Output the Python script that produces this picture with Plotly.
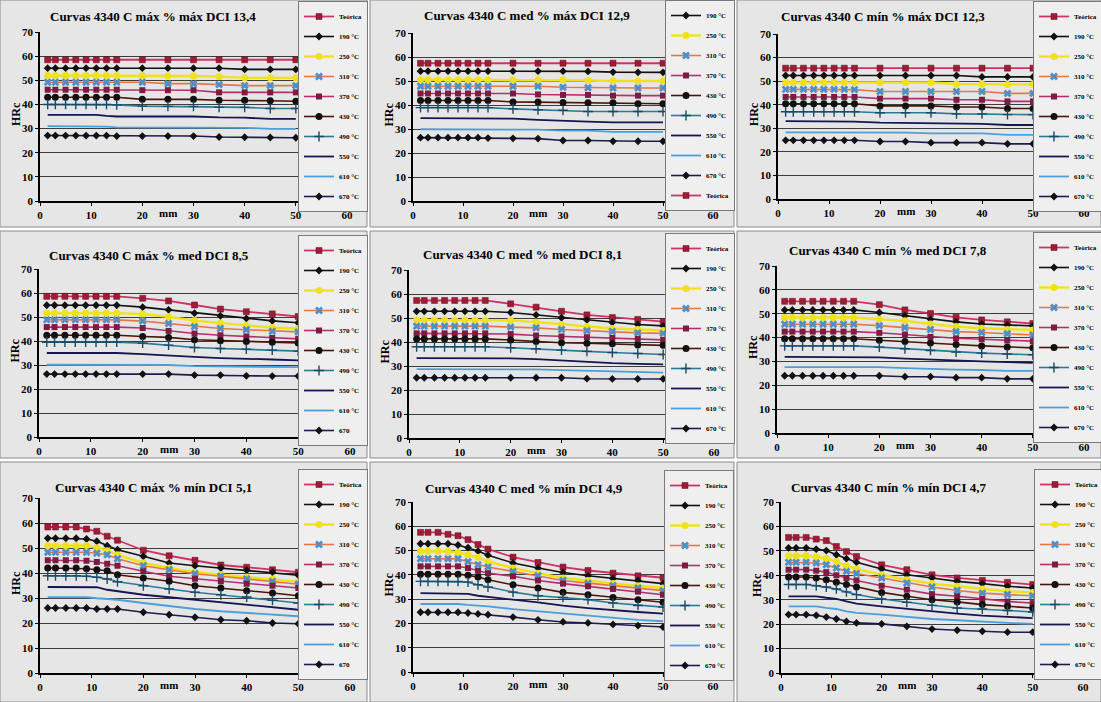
import plotly.graph_objects as go

# ---------------- data ----------------
distances_mm = [1.5, 3, 5, 7, 9, 11, 13, 15, 20, 25, 30, 35, 40, 45, 50]
x_ticks = [0, 10, 20, 30, 40, 50, 60]
y_ticks = [0, 10, 20, 30, 40, 50, 60, 70]

series_names = ["Teórica", "190 °C", "250 °C", "310 °C", "370 °C",
                "430 °C", "490 °C", "550 °C", "610 °C", "670 °C"]

titles = [
    "Curvas 4340 C máx % máx DCI 13,4",
    "Curvas 4340 C med % máx DCI 12,9",
    "Curvas 4340 C mín % máx DCI 12,3",
    "Curvas 4340 C máx % med DCI 8,5",
    "Curvas 4340 C med % med DCI 8,1",
    "Curvas 4340 C mín % med DCI 7,8",
    "Curvas 4340 C máx % mín DCI 5,1",
    "Curvas 4340 C med % mín DCI 4,9",
    "Curvas 4340 C mín % mín DCI 4,7",
]

# each panel: Teórica, 190, 250, 310, 370, 430, 490, 550, 610, 670 (HRc)
max_max = [
    [58.5, 58.5, 58.5, 58.5, 58.5, 58.5, 58.5, 58.5, 58.5, 58.5, 58.5, 58.5, 58.5, 58.5, 58.5],
    [55, 55, 55, 55, 55, 55, 55, 55, 55, 55, 55, 55, 54.5, 54.5, 54.5],
    [52, 52, 52, 52, 52, 52, 52, 52, 52, 51.8, 51.8, 51.5, 51, 51, 51],
    [49.2, 49.2, 49.2, 49.2, 49.2, 49.2, 49.2, 49.2, 49.2, 48.6, 48.6, 48.2, 47.8, 47.8, 47.8],
    [46.1, 46.1, 46.1, 46.1, 46.1, 46.1, 46.1, 46.1, 45.9, 45.9, 45.9, 45, 45, 45, 45],
    [43, 43, 43, 43, 43, 43, 43, 43, 42.1, 42.1, 42.1, 41.7, 41.7, 41.5, 41.3],
    [40, 40, 40, 40, 40, 40, 40, 39.8, 39.3, 39.2, 39.2, 38.8, 38.8, 38.3, 38.3],
    [35.7, 35.7, 35.7, 35.7, 35.7, 35.7, 35.3, 35, 35, 35, 35, 34.6, 34.5, 34, 34],
    [31, 31, 31, 31, 31, 31, 30.8, 30.5, 30.5, 30.5, 30.3, 30.3, 30.3, 29.9, 29.9],
    [27.1, 27.1, 27.1, 27.1, 27.1, 27.1, 27.1, 26.9, 26.9, 26.9, 26.9, 26.5, 26.4, 26.3, 26.2],
]
med_max = [
    [57.4, 57.4, 57.4, 57.4, 57.4, 57.4, 57.4, 57.4, 57.4, 57.4, 57.4, 57.4, 57.4, 57.4, 57.4],
    [54.1, 54.1, 54.1, 54.1, 54.1, 54.1, 54.1, 54.1, 54.1, 54.1, 54.1, 54, 53.7, 53.6, 53.6],
    [50.5, 50.5, 50.5, 50.5, 50.5, 50.5, 50.5, 50.5, 50.5, 50.5, 50.5, 50.2, 50, 50, 50],
    [47.8, 47.8, 47.8, 47.8, 47.8, 47.8, 47.8, 47.8, 47.8, 47.8, 47.4, 47.2, 47.1, 47.1, 47.1],
    [44.8, 44.8, 44.8, 44.8, 44.8, 44.8, 44.8, 44.8, 44.8, 44.4, 44.2, 44.2, 43.9, 43.9, 43.9],
    [41.9, 41.9, 41.9, 41.9, 41.9, 41.9, 41.9, 41.9, 41.3, 41.2, 41, 40.9, 40.9, 40.5, 40.5],
    [38.9, 38.9, 38.9, 38.9, 38.9, 38.9, 38.9, 38.9, 38.4, 38, 37.8, 37.3, 37.3, 37.3, 37.3],
    [34.5, 34.5, 34.5, 34.5, 34.5, 34.5, 34.5, 34.5, 34.3, 33.8, 33.6, 33.1, 32.8, 32.8, 32.8],
    [29.9, 29.9, 29.9, 29.9, 29.9, 29.9, 29.9, 29.9, 29.9, 29.7, 29.3, 29.3, 28.8, 28.8, 28.8],
    [26.4, 26.4, 26.4, 26.4, 26.4, 26.4, 26.4, 26.2, 26.1, 26, 25.2, 25.2, 24.9, 24.9, 24.9],
]
min_max = [
    [55.5, 55.5, 55.5, 55.5, 55.5, 55.5, 55.5, 55.5, 55.5, 55.5, 55.5, 55.5, 55.5, 55.5, 55.5],
    [52.4, 52.4, 52.4, 52.4, 52.4, 52.4, 52.4, 52.4, 52.4, 52.4, 52.4, 52.4, 51.8, 51.8, 51.8],
    [49.4, 49.4, 49.4, 49.4, 49.4, 49.4, 49.4, 49.4, 49.4, 49.4, 49.4, 48.8, 48.8, 48.6, 48.6],
    [46.5, 46.5, 46.5, 46.5, 46.5, 46.5, 46.5, 46.4, 45.6, 45.6, 45.6, 45.6, 45.6, 44.8, 44.8],
    [43.3, 43.3, 43.3, 43.3, 43.3, 43.3, 43.3, 43.3, 42.6, 42.6, 42.6, 42.1, 42.1, 41.4, 41.4],
    [40.4, 40.4, 40.4, 40.4, 40.4, 40.4, 40.4, 40.4, 39.5, 39.5, 39.5, 39, 39, 38.4, 38.4],
    [37, 37, 37, 37, 37, 37, 37, 37, 36.6, 36.6, 36.6, 36.1, 36.1, 35.8, 35.8],
    [33, 33, 33, 33, 33, 33, 33, 32.8, 32.4, 32.3, 32.3, 31.9, 31.9, 31.4, 31.4],
    [28.3, 28.3, 28.3, 28.3, 28.3, 28.3, 28.3, 28.3, 28.3, 28.2, 27.8, 27.8, 27.8, 27.2, 27.2],
    [24.9, 24.9, 24.9, 24.9, 24.9, 24.9, 24.9, 24.9, 24.4, 24.4, 23.9, 23.9, 23.9, 23.4, 23.4],
]
max_med = [
    [58.6, 58.6, 58.6, 58.6, 58.6, 58.6, 58.6, 58.6, 57.8, 56.7, 55, 53.3, 52.2, 51.3, 50.2],
    [54.9, 54.9, 54.9, 54.9, 54.9, 54.9, 54.9, 54.9, 54.1, 53, 51.6, 50.5, 49.4, 48.4, 47.6],
    [51.6, 51.6, 51.6, 51.6, 51.6, 51.6, 51.6, 51.6, 51.2, 50.1, 48.5, 47.4, 46.5, 45.6, 45.2],
    [48.8, 48.8, 48.8, 48.8, 48.8, 48.8, 48.8, 48.8, 48.3, 47.3, 46, 45.2, 44.7, 44.1, 43.8],
    [45.8, 45.8, 45.8, 45.8, 45.8, 45.8, 45.8, 45.8, 45.4, 44.2, 43.1, 42.4, 41.9, 41.3, 40.9],
    [42.4, 42.4, 42.4, 42.4, 42.4, 42.4, 42.4, 42.4, 41.9, 41.5, 40.5, 40.1, 39.8, 39.5, 39.2],
    [39.5, 39.5, 39.5, 39.5, 39.5, 39.5, 39.5, 39.5, 39.1, 38.3, 37.3, 36.9, 36.6, 36.2, 35.8],
    [35, 35, 35, 35, 35, 35, 35, 35, 34.5, 33.8, 33.4, 32.9, 32.7, 32.3, 31.9],
    [30.1, 30.1, 30.1, 30.1, 30.1, 30.1, 30.1, 30.1, 30.1, 30, 29.5, 29.4, 29.1, 29.1, 29.1],
    [26.2, 26.2, 26.2, 26.2, 26.2, 26.2, 26.2, 26.2, 26.2, 26.2, 25.8, 25.8, 25.5, 25.4, 25.4],
]
med_med = [
    [57.3, 57.3, 57.3, 57.3, 57.3, 57.3, 57.3, 57.3, 55.9, 54.5, 52.8, 51.3, 50.2, 49.4, 48.5],
    [52.8, 52.8, 52.8, 52.8, 52.8, 52.8, 52.8, 52.8, 52.3, 51.3, 50.1, 49.2, 48.1, 47.3, 46.7],
    [49.2, 49.2, 49.2, 49.2, 49.2, 49.2, 49.2, 49.2, 49, 48.3, 47.3, 46.5, 45.6, 45.2, 44.8],
    [46.6, 46.6, 46.6, 46.6, 46.6, 46.6, 46.6, 46.6, 46.2, 45.9, 45.2, 44.7, 44.4, 43.8, 43.6],
    [43.6, 43.6, 43.6, 43.6, 43.6, 43.6, 43.6, 43.6, 43.3, 42.7, 42.3, 42, 41.7, 41.3, 40.9],
    [41.3, 41.3, 41.3, 41.3, 41.3, 41.3, 41.3, 41.3, 40.8, 40.2, 39.7, 39.5, 39.3, 38.8, 38.6],
    [38, 38, 38, 38, 38, 38, 38, 38, 37.6, 37.2, 36.6, 36.1, 35.6, 35.2, 34.8],
    [33.3, 33.3, 33.3, 33.3, 33.3, 33.3, 33.3, 33.3, 33.2, 32.9, 32.3, 31.8, 31.2, 30.9, 30.7],
    [28.7, 28.7, 28.7, 28.7, 28.7, 28.7, 28.7, 28.7, 28.7, 28.6, 28.3, 28, 27.7, 27.5, 27.2],
    [25.1, 25.1, 25.1, 25.1, 25.1, 25.1, 25.1, 25.1, 25.1, 25.1, 25.1, 24.7, 24.6, 24.6, 24.6],
]
min_med = [
    [55.2, 55.2, 55.2, 55.2, 55.2, 55.2, 55.2, 55.2, 53.8, 51.6, 50.1, 48.5, 47.4, 46.6, 45.9],
    [51.6, 51.6, 51.6, 51.6, 51.6, 51.6, 51.6, 51.6, 50.5, 49.1, 47.7, 46.6, 45.7, 45.3, 44.9],
    [48.4, 48.4, 48.4, 48.4, 48.4, 48.4, 48.4, 48.4, 47.7, 47, 45.7, 44.6, 43.9, 43.4, 43.2],
    [45.6, 45.6, 45.6, 45.6, 45.6, 45.6, 45.6, 45.6, 45, 44.2, 43.4, 42.5, 42.1, 41.6, 41.1],
    [42.5, 42.5, 42.5, 42.5, 42.5, 42.5, 42.5, 42.5, 42, 41.3, 40.3, 39.7, 39.3, 38.8, 38.5],
    [39.5, 39.5, 39.5, 39.5, 39.5, 39.5, 39.5, 39.5, 38.9, 38.4, 37.7, 37.1, 36.5, 36.1, 35.7],
    [36.5, 36.5, 36.5, 36.5, 36.5, 36.5, 36.5, 36.5, 36, 35.3, 34.6, 33.9, 33.5, 33.1, 32.8],
    [31.9, 31.9, 31.9, 31.9, 31.9, 31.9, 31.9, 31.9, 31.7, 31.2, 30.7, 30.3, 30, 29.7, 29.4],
    [27.6, 27.6, 27.6, 27.6, 27.6, 27.6, 27.6, 27.6, 27.6, 27.2, 26.8, 26.6, 26.4, 26, 26],
    [24, 24, 24, 24, 24, 24, 24, 24, 24, 23.6, 23.6, 23.2, 23.2, 22.7, 22.7],
]
max_min = [
    [58.4, 58.4, 58.4, 58.4, 57.6, 56.7, 54.7, 53.1, 49.1, 46.9, 45.1, 43.2, 42.3, 41.3, 40.3],
    [53.9, 53.9, 53.9, 53.9, 53.6, 52.7, 50.9, 49.3, 46.7, 44, 42.9, 42, 41.1, 40.3, 39.1],
    [50.9, 50.9, 50.9, 50.9, 51, 50.1, 48.9, 47.3, 44, 42, 40.3, 39.3, 38.4, 37.6, 36.5],
    [48.3, 48.3, 48.3, 48.3, 48.3, 47.9, 47.3, 45.7, 42.9, 41.3, 39.7, 38.7, 37.6, 36.6, 35.5],
    [45.1, 45.1, 45.1, 45.1, 44.9, 44.4, 43.7, 42.9, 40.7, 38.7, 37.7, 36.7, 35.7, 34.9, 34],
    [42, 42, 42, 42, 41.7, 41.3, 40.9, 39.3, 38, 36.7, 34.9, 34, 32.9, 32, 30.9],
    [38.9, 38.9, 38.9, 38.9, 38.7, 38.3, 37.6, 36.5, 34.9, 33.6, 32.3, 31.3, 30.4, 29.1, 28],
    [34.4, 34.4, 34.4, 34.4, 34.4, 34.3, 33.3, 32.7, 31.3, 30.3, 29.3, 28.3, 27.3, 26.4, 25.3],
    [30.3, 30.3, 30.3, 30.3, 30.3, 29.9, 29.6, 29.3, 28, 26.7, 25.6, 24.7, 24, 23.2, 22.7],
    [26, 26, 26, 26, 26, 25.6, 25.6, 25.6, 24.3, 23.3, 22.3, 21.3, 20.9, 20, 19.7],
]
med_min = [
    [57.5, 57.5, 57.5, 56.7, 56.1, 54.5, 52.5, 50.6, 47.3, 45.1, 43.2, 41.8, 40.7, 39.6, 38.8],
    [52.8, 52.8, 52.8, 52.8, 52.3, 51.2, 49.8, 48.1, 44.9, 42.8, 41, 39.6, 38.5, 37.7, 36.4],
    [49.7, 49.7, 49.7, 49.7, 49.2, 48.3, 47.2, 45.5, 42.8, 40.7, 38.7, 37.7, 36.4, 35.5, 34.6],
    [46.6, 46.6, 46.6, 46.6, 46.6, 45.4, 44.2, 43.2, 41.4, 39.6, 37.7, 36.6, 35.5, 34.6, 33.5],
    [43.5, 43.5, 43.5, 43.5, 43.5, 42.8, 41.7, 40.7, 39.4, 37.7, 36.4, 35.3, 34.2, 33.1, 31.8],
    [40.3, 40.3, 40.3, 40.3, 40.3, 39.8, 39.1, 38, 35.9, 34.6, 32.8, 31.8, 30.7, 29.8, 28.7],
    [37.3, 37.3, 37.3, 37.3, 37.3, 37, 35.9, 35, 32.9, 31.4, 30.7, 29.8, 28.4, 27.4, 26.7],
    [32.5, 32.5, 32.5, 32.5, 32.5, 32.2, 31.4, 30.9, 29.8, 28.7, 27.3, 26.3, 25.4, 24.7, 24],
    [28, 28, 28, 28, 28, 27.6, 27.3, 27, 25.9, 25, 24, 23.2, 22.4, 21.5, 20.9],
    [24.6, 24.6, 24.6, 24.6, 24.6, 24.3, 23.9, 23.6, 22.6, 21.5, 20.6, 20.2, 19.6, 19.1, 18.5],
]
min_min = [
    [55.5, 55.5, 55.5, 54.8, 54.2, 51.8, 49.7, 47.7, 44.3, 42.3, 40.2, 38.9, 37.9, 37.1, 36.2],
    [51.2, 51.2, 51.2, 50.7, 50.1, 48.4, 46.8, 45.3, 42.6, 40.2, 38.9, 37.5, 36.6, 35.5, 34.8],
    [48, 48, 48, 47.5, 46.9, 45.6, 43.9, 42.6, 40.2, 38.2, 36.6, 35.5, 34.4, 33.4, 33],
    [45.3, 45.3, 45.3, 45, 44.3, 43, 41.6, 40.7, 38.9, 36.8, 35.2, 33.8, 32.7, 32.1, 31.6],
    [42.3, 42.3, 42.3, 41.9, 41.3, 40, 38.9, 37.9, 35.7, 34.1, 32.3, 31.4, 30.3, 29.3, 28.6],
    [39.3, 39.3, 39.3, 38.9, 38.2, 37.2, 36.2, 35.2, 33, 31.4, 30, 29.1, 28, 27.3, 26.6],
    [36.2, 36.2, 36.2, 35.7, 35.2, 34.4, 33.2, 32.1, 30.3, 28.9, 27.7, 26.6, 26.2, 25.6, 25],
    [31.4, 31.4, 31.4, 31.4, 30.8, 30.3, 29.3, 28.4, 27.3, 26.2, 25.2, 24.3, 23.5, 22.9, 22.5],
    [27.3, 27.3, 27.3, 27.3, 26.7, 26.2, 25.2, 24.6, 23.9, 22.9, 22.1, 21.6, 20.9, 20.5, 20.1],
    [23.9, 23.9, 23.9, 23.6, 22.9, 22.1, 21.1, 20.5, 20.1, 19.1, 18, 17.5, 17.1, 16.7, 16.7],
]

panel_data = [max_max, med_max, min_max, max_med, med_med, min_med, max_min, med_min, min_min]
# label of the last legend entry in each panel
last_label = ["670 °C", "670 °C", "670 °C", "670", "670 °C", "670 °C", "670", "670 °C", "670 °C"]
teorica_last = [False, True, False, False, False, False, False, False, False]

# ---------------- layout constants (pixels) ----------------
W, H = 1101, 702
# (x at 0, x at 60, y at 70, y at 0)
plot_px = [
    (40, 347, 32, 201), (413, 713, 33, 201), (778, 1084, 34, 199),
    (39, 350, 269, 437), (409, 714, 270, 438), (777, 1084, 266, 433),
    (40, 350, 498, 673), (413, 713, 502, 672), (781, 1083, 502, 673),
]
# (left edge, centre of first legend entry)
legend_px = [(298, 16), (665, 15), (1033, 16), (298, 250), (665, 248), (1033, 247),
             (298, 484), (664, 485), (1034, 484)]
title_px = [(153, 17), (527, 15), (883, 17), (149, 255), (522, 254), (888, 250),
            (153, 487), (524, 488), (889, 487)]
panel_cols = [(0, 367), (370, 734), (737, 1101)]
panel_rows = [(0, 227), (231, 458), (462, 702)]

styles = [
    dict(mode="lines+markers", line=dict(color="#cc3366", width=1.8),
         marker=dict(symbol="square", size=6, color="#a01c34", line=dict(color="#6a0f20", width=0.5))),
    dict(mode="lines+markers", line=dict(color="#111111", width=1.6),
         marker=dict(symbol="diamond", size=6, color="#111111")),
    dict(mode="lines+markers", line=dict(color="#f0e21a", width=2.4),
         marker=dict(symbol="circle", size=7, color="#f0e21a")),
    dict(mode="lines+markers", line=dict(color="#e2784a", width=1.6),
         marker=dict(symbol="x", size=7, color="#4f8ec6")),
    dict(mode="lines+markers", line=dict(color="#b2306e", width=1.6),
         marker=dict(symbol="square", size=6, color="#7e1c40")),
    dict(mode="lines+markers", line=dict(color="#4a140a", width=1.6),
         marker=dict(symbol="circle", size=7, color="#111111")),
    dict(mode="lines+markers", line=dict(color="#2b7a99", width=1.6),
         marker=dict(symbol="cross-thin", size=7, color="#1b4a66", line=dict(color="#1b4a66", width=1.4))),
    dict(mode="lines", line=dict(color="#151550", width=1.8)),
    dict(mode="lines", line=dict(color="#4c9fd8", width=1.8)),
    dict(mode="lines+markers", line=dict(color="#1c1c50", width=1.6),
         marker=dict(symbol="diamond", size=6, color="#111111")),
]

FONT = "Liberation Serif"


def fx(px):
    return px / W


def fy(py):
    return 1 - py / H


fig = go.Figure()
layout = {}
annotations = []
shapes = []

for r in panel_rows:
    for c in panel_cols:
        shapes.append(dict(type="rect", xref="paper", yref="paper", layer="below",
                           x0=fx(c[0]), x1=fx(c[1]), y0=fy(r[1]), y1=fy(r[0]),
                           fillcolor="#e6e6e6", line=dict(color="#8a8a8a", width=1)))

for i, data in enumerate(panel_data):
    sfx = "" if i == 0 else str(i + 1)
    xa, ya = "x" + sfx, "y" + sfx
    leg = "legend" if i == 0 else "legend" + str(i + 1)
    names = series_names[:9] + [last_label[i]]
    order = list(range(1, 10)) + [0] if teorica_last[i] else list(range(10))
    for k in order:
        fig.add_trace(go.Scatter(
            x=distances_mm, y=data[k], name=names[k], xaxis=xa, yaxis=ya,
            legend=leg, legendgroup=f"p{i}s{k}", showlegend=True, **styles[k]))

    x0, x1, yt, yb = plot_px[i]
    layout["xaxis" + sfx] = dict(
        domain=[fx(x0), fx(x1)], range=[0, 60], anchor=ya, tickvals=x_ticks,
        showgrid=False, zeroline=False, showline=True, linecolor="black", linewidth=1.5,
        ticks="outside", ticklen=3, tickcolor="black",
        tickfont=dict(family=FONT, size=11, color="black", weight="bold"))
    layout["yaxis" + sfx] = dict(
        domain=[fy(yb), fy(yt)], range=[0, 70], anchor=xa, tickvals=y_ticks,
        showgrid=True, gridcolor="#3c3c3c", gridwidth=1, zeroline=False,
        showline=True, linecolor="black", linewidth=1.5,
        ticks="outside", ticklen=3, tickcolor="black",
        tickfont=dict(family=FONT, size=11, color="black", weight="bold"))

    lx, ly = legend_px[i]
    layout[leg] = dict(
        x=fx(lx), y=fy(ly - 15), xanchor="left", yanchor="top",
        bgcolor="#efefef", bordercolor="#7a7a7a", borderwidth=1,
        font=dict(family=FONT, size=7, color="black", weight="bold"),
        tracegroupgap=1, itemwidth=30)

    tx, ty = title_px[i]
    annotations.append(dict(text="<b>" + titles[i] + "</b>", xref="paper", yref="paper",
                            x=fx(tx), y=fy(ty), xanchor="center", yanchor="middle",
                            showarrow=False, font=dict(family=FONT, size=13, color="black")))
    annotations.append(dict(text="<b>HRc</b>", xref="paper", yref=ya, x=fx(x0 - 24), y=36,
                            textangle=-90, xanchor="center", yanchor="middle",
                            showarrow=False, font=dict(family=FONT, size=12, color="black")))
    annotations.append(dict(text="<b>mm</b>", xref=xa, yref=ya, x=25, y=0, yshift=-12,
                            xanchor="center", yanchor="middle",
                            showarrow=False, font=dict(family=FONT, size=11, color="black")))

fig.update_layout(
    width=W, height=H,
    margin=dict(l=0, r=0, t=0, b=0, autoexpand=False),
    paper_bgcolor="white", plot_bgcolor="#cfe8ee",
    annotations=annotations, shapes=shapes,
    **layout)

fig.write_html("out.html", config={"displayModeBar": False},
               post_script="document.body.style.margin='0px';document.body.style.overflow='hidden';")
